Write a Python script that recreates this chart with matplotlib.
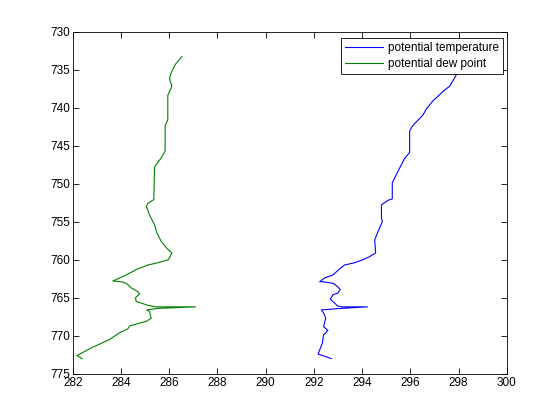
import matplotlib
matplotlib.use('Agg')
import matplotlib.pyplot as plt
import numpy as np

# potential temperature (K) vs pressure (hPa)
theta = [298.3, 298.1, 297.87, 297.63, 297.42, 296.94, 296.66, 296.52, 296.18, 296.07,
         295.97, 295.97, 295.76, 295.63, 295.42, 295.25, 295.25, 295.07, 294.80, 294.80,
         294.84, 294.66, 294.52, 294.56, 294.31, 294.03, 293.69, 293.27, 293.07, 292.79,
         292.44, 292.24, 292.37, 292.79, 292.93, 293.09, 292.99, 292.79, 292.68, 292.86,
         292.99, 293.18, 294.22, 293.14, 292.72, 292.31, 292.40, 292.49, 292.40, 292.58,
         292.40, 292.35, 292.17, 292.72]
p_theta = [733.4, 734.5, 735.9, 737.2, 737.7, 739.1, 740.2, 741.0, 742.1, 742.5,
           743.1, 745.9, 746.7, 747.5, 748.8, 749.9, 752.0, 752.2, 752.8, 754.5,
           755.0, 756.3, 757.4, 759.1, 759.6, 760.0, 760.4, 760.7, 761.2, 762.0,
           762.4, 762.9, 762.9, 763.1, 763.4, 763.9, 764.4, 764.6, 765.2, 765.7,
           766.1, 766.2, 766.2, 766.4, 766.5, 766.6, 767.0, 767.7, 768.8, 769.3,
           769.9, 771.0, 772.4, 773.0]

# potential dew point (K) vs pressure (hPa)
theta_d = [286.52, 286.26, 286.08, 286.01, 286.11, 285.94, 285.94, 285.83, 285.83, 285.67,
           285.39, 285.36, 285.11, 285.05, 285.18, 285.39, 285.49, 285.67, 285.90, 286.11,
           285.97, 285.53, 285.11, 284.63, 284.22, 283.94, 283.66, 284.01, 284.22, 284.42,
           284.70, 284.77, 284.60, 284.63, 284.84, 285.11, 285.46, 287.09, 285.53, 285.07,
           285.18, 285.25, 285.05, 284.35, 284.28, 283.94, 283.52, 282.83, 282.17, 282.39]
p_d = [733.3, 734.3, 735.4, 736.2, 737.2, 738.4, 741.6, 742.4, 745.7, 746.6,
       747.8, 752.1, 752.6, 753.0, 754.1, 755.4, 756.5, 757.6, 758.5, 759.1,
       760.0, 760.4, 760.7, 761.3, 762.0, 762.4, 762.8, 762.9, 763.1, 763.7,
       764.2, 764.5, 765.0, 765.5, 765.7, 766.0, 766.2, 766.2, 766.4, 766.6,
       766.8, 767.7, 768.1, 768.7, 769.1, 769.6, 770.5, 771.5, 772.6, 773.0]

xticks = np.arange(282, 301, 2)
yticks = np.arange(730, 776, 5)

plt.rcParams['font.family'] = ['Liberation Sans', 'DejaVu Sans']
plt.rcParams['font.size'] = 8.5

fig = plt.figure(figsize=(5.6, 4.2), dpi=100)
ax = fig.add_axes([0.13, 0.11, 0.775, 0.815])

ax.plot(theta, p_theta, color=(0, 0, 1), lw=0.8, label='potential temperature')
ax.plot(theta_d, p_d, color=(0, 0.5, 0), lw=0.8, label='potential dew point')

ax.set_xlim(282, 300)
ax.set_ylim(775, 730)
ax.set_xticks(xticks)
ax.set_yticks(yticks)
ax.tick_params(direction='in', length=4, width=0.6, top=True, right=True, pad=2)
for s in ax.spines.values():
    s.set_linewidth(0.6)

leg = ax.legend(loc='upper right', bbox_to_anchor=(0.991, 0.98), borderaxespad=0,
                fancybox=False, framealpha=1, edgecolor='black', handlelength=3.2,
                handletextpad=0.4, borderpad=0.35, labelspacing=0.3)
leg.get_frame().set_linewidth(0.6)

fig.savefig('out.png', dpi=100)
